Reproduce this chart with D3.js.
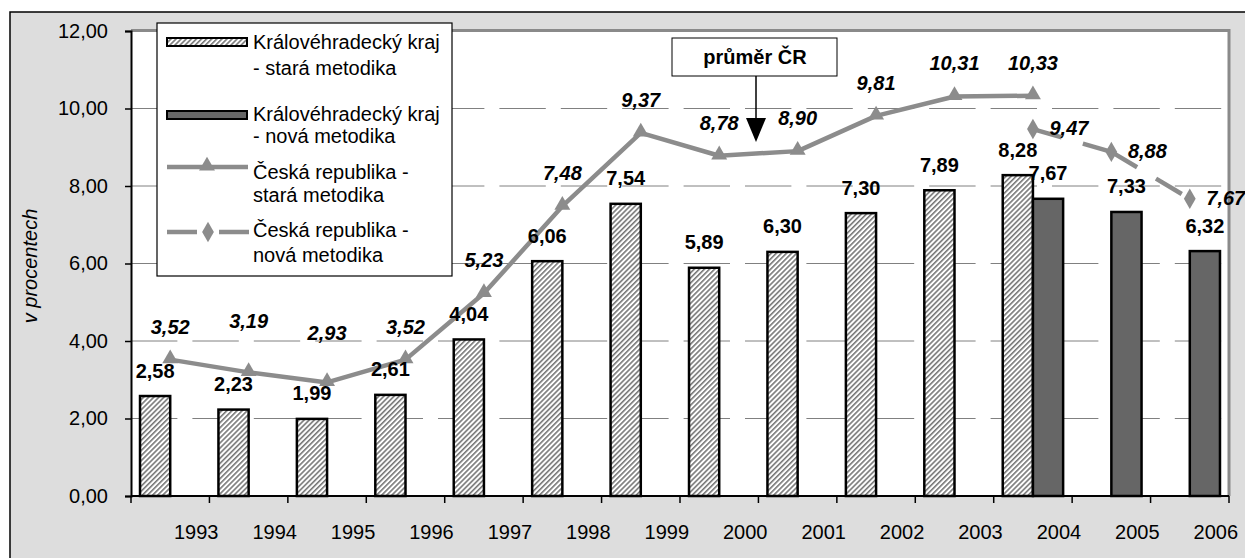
<!DOCTYPE html>
<html lang="cs">
<head>
<meta charset="utf-8">
<title>Královéhradecký kraj - míra nezaměstnanosti</title>
<script src="https://cdn.jsdelivr.net/npm/d3@7"></script>
<style>
    body { margin: 0; background: #fff; }
    svg { display: block; font-family: "Liberation Sans", Arial, sans-serif; }
</style>
</head>
<body>
<svg id="chart" width="1245" height="558"></svg>
<script>
// data
const years = ["1993", "1994", "1995", "1996", "1997", "1998", "1999", "2000", "2001", "2002", "2003", "2004", "2005", "2006"];
const khStara = [2.58, 2.23, 1.99, 2.61, 4.04, 6.06, 7.54, 5.89, 6.30, 7.30, 7.89, 8.28, null, null];
const khNova = [null, null, null, null, null, null, null, null, null, null, null, 7.67, 7.33, 6.32];
const crStara = [3.52, 3.19, 2.93, 3.52, 5.23, 7.48, 9.37, 8.78, 8.90, 9.81, 10.31, 10.33, null, null];
const crNova = [null, null, null, null, null, null, null, null, null, null, null, 9.47, 8.88, 7.67];
const yTicks = [0, 2, 4, 6, 8, 10, 12];
const legendLabels = [
    ["Královéhradecký kraj", "- stará metodika"],
    ["Královéhradecký kraj", "- nová metodika"],
    ["Česká republika -", "stará metodika"],
    ["Česká republika -", "nová metodika"]
];

const svg = d3.select("#chart");
const lineGrey = "#8c8c8c";
const fmt = v => v.toFixed(2).replace(".", ",");

// outer frame
svg.append("rect").attr("x", 10).attr("y", 12).attr("width", 1250).attr("height", 560)
    .attr("fill", "#dddddd").attr("stroke", "#000").attr("stroke-width", 1.5);

const plot = { left: 131, right: 1229, top: 31, bottom: 496 };

// hatch pattern
const defs = svg.append("defs");
const pat = defs.append("pattern").attr("id", "hatch").attr("patternUnits", "userSpaceOnUse")
    .attr("width", 3.6).attr("height", 3.6).attr("patternTransform", "rotate(45)");
pat.append("rect").attr("width", 3.6).attr("height", 3.6).attr("fill", "#fff");
pat.append("line").attr("x1", 0.8).attr("y1", 0).attr("x2", 0.8).attr("y2", 3.6)
    .attr("stroke", "#6e6e6e").attr("stroke-width", 1.5);

// plot area
svg.append("rect").attr("x", plot.left).attr("y", plot.top - 1)
    .attr("width", plot.right - plot.left).attr("height", plot.bottom - plot.top + 1)
    .attr("fill", "#fff");
svg.append("path")
    .attr("d", `M${plot.left},${plot.top - 0.5}H${plot.right}V${plot.bottom}`)
    .attr("fill", "none").attr("stroke", "#8a8a8a").attr("stroke-width", 3);

const x = d3.scaleBand().domain(years).range([plot.left, plot.right]).padding(0);
const y = d3.scaleLinear().domain([0, 12]).range([plot.bottom, plot.top]);
const bw = x.bandwidth();
const barW = bw * 0.385;
const cx = yr => x(yr) + bw / 2;

// gridlines
svg.append("g").selectAll("line").data(yTicks.filter(t => t > 0 && t < 12)).join("line")
    .attr("x1", plot.left).attr("x2", plot.right)
    .attr("y1", d => y(d)).attr("y2", d => y(d))
    .attr("stroke", "#808080").attr("stroke-width", 1)
    .attr("stroke-dasharray", "46.4,15");

// bars
const bars = svg.append("g");
bars.selectAll(".stara").data(years.map((yr, i) => ({ yr, v: khStara[i] })).filter(d => d.v != null))
    .join("rect")
    .attr("x", d => cx(d.yr) - barW).attr("width", barW)
    .attr("y", d => y(d.v)).attr("height", d => y(0) - y(d.v))
    .attr("fill", "url(#hatch)").attr("stroke", "#000").attr("stroke-width", 2.5);
bars.selectAll(".nova").data(years.map((yr, i) => ({ yr, v: khNova[i] })).filter(d => d.v != null))
    .join("rect")
    .attr("x", d => cx(d.yr)).attr("width", barW)
    .attr("y", d => y(d.v)).attr("height", d => y(0) - y(d.v))
    .attr("fill", "#666666").attr("stroke", "#000").attr("stroke-width", 2.5);

// axes
const yAxis = d3.axisLeft(y).tickValues(yTicks).tickFormat(fmt).tickSize(6).tickPadding(17);
const gy = svg.append("g").attr("transform", `translate(${plot.left},0)`).call(yAxis);
gy.select(".domain").attr("stroke", "#000").attr("stroke-width", 2);
gy.selectAll(".tick line").attr("stroke", "#000").attr("stroke-width", 1.5);
gy.selectAll(".tick text").attr("font-size", 20).attr("fill", "#000")
    .attr("font-family", "Liberation Sans, Arial, sans-serif");

const gx = svg.append("g").attr("transform", `translate(0,${plot.bottom})`);
gx.append("line").attr("x1", plot.left).attr("x2", plot.right).attr("stroke", "#000").attr("stroke-width", 2);
gx.selectAll(".tk").data(d3.range(years.length + 1)).join("line")
    .attr("x1", i => plot.left + i * bw).attr("x2", i => plot.left + i * bw)
    .attr("y1", 0).attr("y2", 7).attr("stroke", "#000").attr("stroke-width", 1.5);
gx.selectAll("text").data(years).join("text")
    .attr("x", d => cx(d) + 26).attr("y", 43)
    .attr("text-anchor", "middle").attr("font-size", 20).text(d => d);

svg.append("text")
    .attr("transform", "translate(37,266) rotate(-90)")
    .attr("text-anchor", "middle").attr("font-size", 20).attr("font-style", "italic")
    .text("v procentech");

// lines
const line = d3.line().x(d => cx(d.yr)).y(d => y(d.v));
const crS = years.map((yr, i) => ({ yr, v: crStara[i] })).filter(d => d.v != null);
const crN = years.map((yr, i) => ({ yr, v: crNova[i] })).filter(d => d.v != null);

svg.append("path").datum(crS).attr("d", line)
    .attr("fill", "none").attr("stroke", lineGrey).attr("stroke-width", 4.5).attr("stroke-linejoin", "round");
// dashed line restarts its dash pattern at each segment
svg.append("g").selectAll("path").data(d3.pairs(crN)).join("path")
    .attr("d", d => line(d))
    .attr("fill", "none").attr("stroke", lineGrey).attr("stroke-width", 4.5)
    .attr("stroke-dasharray", "30,22");

const tri = d3.symbol().type(d3.symbolTriangle).size(110);
const dia = d3.symbol().type(d3.symbolDiamond).size(120);
svg.append("g").selectAll("path").data(crS).join("path")
    .attr("transform", d => `translate(${cx(d.yr)},${y(d.v) - 1})`)
    .attr("d", tri).attr("fill", lineGrey);
svg.append("g").selectAll("path").data(crN).join("path")
    .attr("transform", d => `translate(${cx(d.yr)},${y(d.v)})`)
    .attr("d", dia).attr("fill", lineGrey);

// data labels
const lab = svg.append("g").attr("font-size", 20).attr("font-weight", "bold").attr("text-anchor", "middle");
lab.selectAll(".ls").data(years.map((yr, i) => ({ yr, v: khStara[i] })).filter(d => d.v != null)).join("text")
    .attr("x", d => cx(d.yr) - barW / 2).attr("y", d => y(d.v) - 18.5).text(d => fmt(d.v));
lab.selectAll(".ln").data(years.map((yr, i) => ({ yr, v: khNova[i] })).filter(d => d.v != null)).join("text")
    .attr("x", d => cx(d.yr) + barW / 2).attr("y", d => y(d.v) - 18.5).text(d => fmt(d.v));
// the 1994 and 1995 labels sit higher so they clear the line
const crLift = { "1994": 18, "1995": 16 };
lab.selectAll(".cs").data(crS).join("text")
    .attr("font-style", "italic")
    .attr("x", d => cx(d.yr)).attr("y", d => y(d.v) - 26 - (crLift[d.yr] || 0)).text(d => fmt(d.v));
lab.selectAll(".cn").data(crN).join("text")
    .attr("font-style", "italic")
    .attr("x", d => cx(d.yr) + 36).attr("y", d => y(d.v) + 6).text(d => fmt(d.v));

// "průměr ČR" callout
const call = svg.append("g");
call.append("rect").attr("x", 672).attr("y", 38).attr("width", 165).attr("height", 38)
    .attr("fill", "#fff").attr("stroke", "#000").attr("stroke-width", 1);
call.append("text").attr("x", 755).attr("y", 64).attr("text-anchor", "middle")
    .attr("font-size", 20).attr("font-weight", "bold").text("průměr ČR");
call.append("line").attr("x1", 756).attr("x2", 756).attr("y1", 76).attr("y2", 120)
    .attr("stroke", "#000").attr("stroke-width", 1.5);
call.append("path").attr("d", "M746,118L766,118L756,142Z").attr("fill", "#000");

// legend
const lg = svg.append("g");
lg.append("rect").attr("x", 157).attr("y", 23).attr("width", 295).attr("height", 253)
    .attr("fill", "#fff").attr("stroke", "#000").attr("stroke-width", 1.2);
lg.append("rect").attr("x", 167).attr("y", 38).attr("width", 80).attr("height", 8)
    .attr("fill", "url(#hatch)").attr("stroke", "#000").attr("stroke-width", 2);
lg.append("rect").attr("x", 167).attr("y", 111).attr("width", 80).attr("height", 8)
    .attr("fill", "#666666").attr("stroke", "#000").attr("stroke-width", 2);
lg.append("line").attr("x1", 167).attr("x2", 248).attr("y1", 167).attr("y2", 167)
    .attr("stroke", lineGrey).attr("stroke-width", 4.5);
lg.append("path").attr("transform", "translate(207,166)").attr("d", tri).attr("fill", lineGrey);
lg.append("line").attr("x1", 167).attr("x2", 249).attr("y1", 232).attr("y2", 232)
    .attr("stroke", lineGrey).attr("stroke-width", 4.5).attr("stroke-dasharray", "30,22");
lg.append("path").attr("transform", "translate(208,232)").attr("d", dia).attr("fill", lineGrey);

const lgBase = [[49, 75], [121, 143], [179, 202], [237, 262]];
legendLabels.forEach((lines, i) => {
    lines.forEach((t, j) => {
        lg.append("text").attr("x", 253).attr("y", lgBase[i][j]).attr("font-size", 20).text(t);
    });
});
</script>
</body>
</html>
